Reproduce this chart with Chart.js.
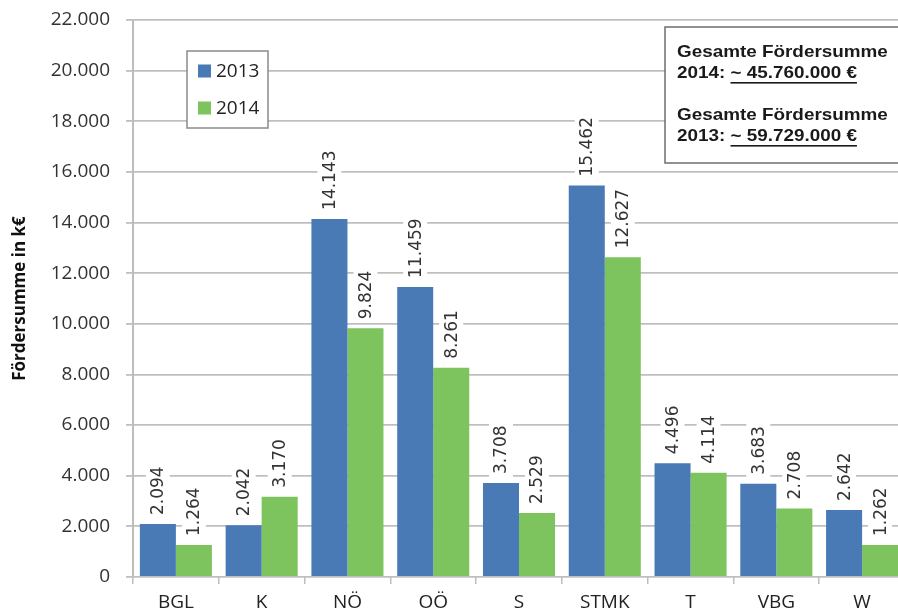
<!DOCTYPE html>
<html>
<head>
<meta charset="utf-8">
<script src="https://cdn.jsdelivr.net/npm/chart.js@4"></script>
<style>
  body { margin: 0; background: #fff; overflow: hidden; }
  #wrap { width: 898px; height: 614px; overflow: hidden; }
</style>
</head>
<body>
<div id="wrap"><canvas id="foerderChart" width="906" height="614"></canvas></div>
<script>
const categories = ['BGL', 'K', 'NÖ', 'OÖ', 'S', 'STMK', 'T', 'VBG', 'W'];
const values2013 = [2094, 2042, 14143, 11459, 3708, 15462, 4496, 3683, 2642];
const values2014 = [1264, 3170, 9824, 8261, 2529, 12627, 4114, 2708, 1262];
const seriesLabels = ['2013', '2014'];
const seriesColors = ['#4a7ab5', '#7dc35e'];
const yMax = 22000;
const yStep = 2000;
const summaryLabel = 'Gesamte Fördersumme';
const summaryYears = ['2014', '2013'];
const summaryAmounts = ['~ 45.760.000 €', '~ 59.729.000 €'];

// German thousands separator: 2094 -> "2.094"
function fmt(v) {
    return String(v).replace(/\B(?=(\d{3})+(?!\d))/g, '.');
}

const barLabels = {
    id: 'barLabels',
    afterDatasetsDraw(chart) {
        const ctx = chart.ctx;
        ctx.save();
        ctx.font = '17px "DejaVu Sans"';
        chart.data.datasets.forEach((ds, i) => {
            chart.getDatasetMeta(i).data.forEach((bar, j) => {
                const text = fmt(ds.data[j]);
                const w = ctx.measureText(text).width;
                ctx.save();
                ctx.translate(bar.x, bar.y - 9);
                ctx.rotate(-Math.PI / 2);
                ctx.fillStyle = '#fff';
                ctx.fillRect(-3, -12, w + 8, 24);
                ctx.fillStyle = '#333';
                ctx.textAlign = 'left';
                ctx.textBaseline = 'middle';
                ctx.fillText(text, 0, 1);
                ctx.restore();
            });
        });
        ctx.restore();
    }
};

const boxes = {
    id: 'boxes',
    afterDraw(chart) {
        const ctx = chart.ctx;
        ctx.save();

        // legend
        ctx.fillStyle = '#fff';
        ctx.fillRect(187, 51, 81, 77);
        ctx.strokeStyle = '#8a8a8a';
        ctx.lineWidth = 1.5;
        ctx.strokeRect(187, 51, 81, 77);
        ctx.font = '19px "Open Sans"';
        ctx.textBaseline = 'middle';
        chart.data.datasets.forEach((ds, i) => {
            const cy = 71 + i * 37;
            ctx.fillStyle = ds.backgroundColor;
            ctx.fillRect(198, cy - 6.5, 13, 13);
            ctx.fillStyle = '#222';
            ctx.fillText(ds.label, 216, cy + 1);
        });

        // summary box
        ctx.fillStyle = '#fff';
        ctx.fillRect(665, 27, 245, 136);
        ctx.strokeStyle = '#6e6e6e';
        ctx.lineWidth = 1.5;
        ctx.strokeRect(665, 27, 245, 136);

        ctx.translate(677, 0);
        ctx.scale(1.11, 1);
        ctx.font = 'bold 17px "Liberation Sans"';
        ctx.textBaseline = 'alphabetic';
        ctx.fillStyle = '#1a1a1a';
        summaryYears.forEach((yr, i) => {
            const base = 57 + i * 63;
            ctx.fillText(summaryLabel, 0, base);
            const lead = yr + ': ';
            ctx.fillText(lead, 0, base + 21);
            const x0 = ctx.measureText(lead).width;
            ctx.fillText(summaryAmounts[i], x0, base + 21);
            const w = ctx.measureText(summaryAmounts[i]).width;
            ctx.fillRect(x0, base + 25, w, 1.6);
        });
        ctx.restore();
    }
};

new Chart(document.getElementById('foerderChart'), {
    type: 'bar',
    data: {
        labels: categories,
        datasets: [
            { label: seriesLabels[0], data: values2013, backgroundColor: seriesColors[0] },
            { label: seriesLabels[1], data: values2014, backgroundColor: seriesColors[1] }
        ]
    },
    options: {
        responsive: false,
        animation: false,
        categoryPercentage: 0.84,
        barPercentage: 1,
        layout: { padding: { top: 20, right: 1, left: 0, bottom: 0 } },
        plugins: {
            legend: { display: false },
            tooltip: { enabled: false }
        },
        scales: {
            x: {
                grid: { drawOnChartArea: false, color: '#bdbdbd', lineWidth: 1.5, tickLength: 7, offset: true },
                border: { display: false },
                ticks: { font: { family: 'Open Sans', size: 19 }, color: '#222', padding: 7 },
                afterFit(s) { s.height = 37; }
            },
            y: {
                min: 0,
                max: yMax,
                ticks: {
                    stepSize: yStep,
                    callback: v => fmt(v),
                    font: { family: 'Open Sans', size: 19 },
                    color: '#333',
                    padding: 16
                },
                grid: { color: '#bfbfbf', lineWidth: 1.8, tickLength: 7 },
                border: { color: '#bdbdbd', width: 2 },
                title: {
                    display: true,
                    text: 'Fördersumme in k€',
                    font: { family: 'Open Sans', size: 17, weight: 'bold' },
                    color: '#111',
                    padding: { top: 10, bottom: 0 }
                },
                afterFit(s) {
                    s.width = 133;
                    s.paddingTop = 0;
                    s.paddingBottom = 0;
                }
            }
        }
    },
    plugins: [barLabels, boxes]
});
</script>
</body>
</html>
